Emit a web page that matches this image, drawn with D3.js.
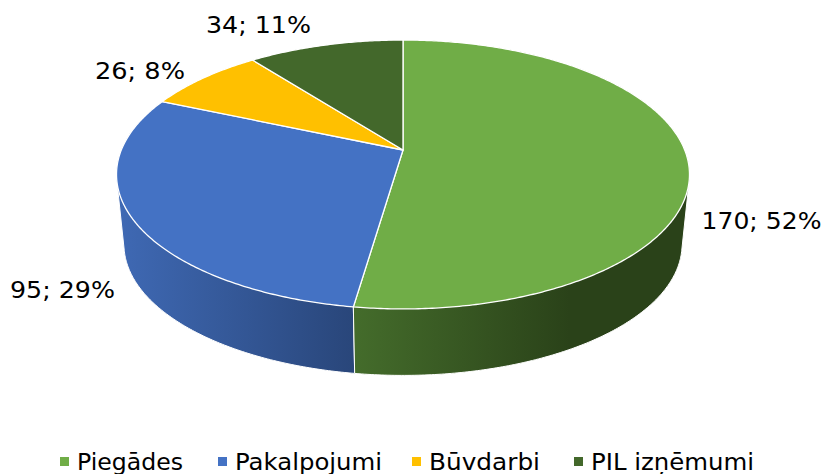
<!DOCTYPE html>
<html><head><meta charset="utf-8">
<script src="https://cdnjs.cloudflare.com/ajax/libs/d3/7.8.5/d3.min.js"></script>
<style>html,body{margin:0;padding:0;background:#fff;overflow:hidden}svg{display:block}
text{font-family:"DejaVu Sans",Verdana,sans-serif;fill:#000}</style></head><body>
<svg id="c" width="823" height="474"></svg>
<script>
const categories = ["Piegādes","Pakalpojumi","Būvdarbi","PIL izņēmumi"];
const values = [170,95,26,34];
const percents = [52,29,8,11];
const topColors = ["#70ad47","#4472c4","#ffc000","#43682b"];
const wallStart = ["#446c2b",  "#3f69b4", "#ffc000", "#43682b"];
const wallEnd   = ["#2a4219", "#29467a", "#ffc000", "#43682b"];
const labelPos = [[761.5,229],[62.5,298],[140,79],[258.5,33]];
const labelWidth = [120,105,90,105];
const legendText = [77,235,429,591];
const legendWidth = [106,147,111,163];
const legendMark = [65,223,417,579];

const W=823,H=474,FS=23;
const svg=d3.select("#c");
const pie=d3.pie().sort(null).startAngle(0).endAngle(2*Math.PI);
const arcs=pie(values);
// perspective projection of the disc
const k=0.182;
const sx=d3.scaleLinear().domain([-1,1]).range([403-281.7,403+281.7]);
const sy=d3.scaleLinear().domain([-1,1]).range([150-130,150+130]);
function proj(a,r,scale,dy){
  const u=r*Math.sin(a),v=-r*Math.cos(a),w=1-k*v;
  const px=403+(sx(u/w)-403)*scale, py=150+dy+(sy(v/w)-150)*scale;
  return [px,py];
}
function arcPts(a0,a1,scale,dy){
  const n=Math.max(2,Math.ceil((a1-a0)/0.01));
  return d3.range(n+1).map(i=>proj(a0+(a1-a0)*i/n,1,scale,dy));
}
const line=d3.line();
const defs=svg.append("defs");
const wallX=[[354,570],[118,354]];
[0,1].forEach(i=>{
  const g=defs.append("linearGradient").attr("id","w"+i).attr("gradientUnits","userSpaceOnUse")
    .attr("x1",wallX[i][0]).attr("x2",wallX[i][1]).attr("y1",0).attr("y2",0);
  g.append("stop").attr("offset",0).attr("stop-color",wallStart[i]);
  g.append("stop").attr("offset",1).attr("stop-color",wallEnd[i]);
});
// side walls: convex hull of the top and bottom rims of each front-facing slice
[1,0].forEach(i=>{
  const d=arcs[i];
  const pts=d3.polygonHull(arcPts(d.startAngle,d.endAngle,1,0).concat(arcPts(d.startAngle,d.endAngle,0.974,70.6)));
  svg.append("path").attr("d",line(pts)+"Z").attr("fill",`url(#w${i})`)
    .attr("stroke","#fff").attr("stroke-width",1).attr("stroke-linejoin","round");
});
// top face
arcs.forEach((d,i)=>{
  const pts=[proj(0,0,1,0)].concat(arcPts(d.startAngle,d.endAngle,1,0));
  svg.append("path").attr("d",line(pts)+"Z").attr("fill",topColors[i])
    .attr("stroke","#fff").attr("stroke-width",1.3).attr("stroke-linejoin","round");
});
// data labels
values.forEach((v,i)=>{
  svg.append("text").attr("x",labelPos[i][0]-labelWidth[i]/2).attr("y",labelPos[i][1])
    .attr("font-size",FS).attr("textLength",labelWidth[i]).attr("lengthAdjust","spacingAndGlyphs")
    .text(`${v}; ${percents[i]}%`);
});
// legend
categories.forEach((c,i)=>{
  svg.append("rect").attr("x",legendMark[i]-5).attr("y",457).attr("width",9).attr("height",9).attr("fill",topColors[i]);
  svg.append("text").attr("x",legendText[i]).attr("y",470).attr("font-size",FS)
    .attr("textLength",legendWidth[i]).attr("lengthAdjust","spacingAndGlyphs").text(c);
});
</script></body></html>
